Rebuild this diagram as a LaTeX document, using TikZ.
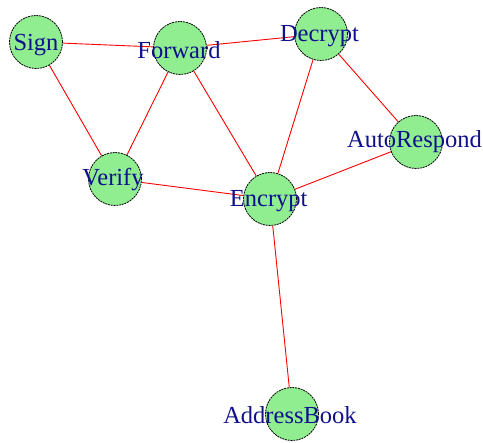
\documentclass[tikz,border=0pt]{standalone}
\usepackage{fontspec}
\setmainfont{Liberation Serif}
\usetikzlibrary{backgrounds}
\definecolor{vfill}{HTML}{90EE90}
\definecolor{lblue}{HTML}{10108C}
\begin{document}
\begin{tikzpicture}[x=1pt,y=-1pt,
  vert/.style={circle,draw=black,line width=0.8pt,dash pattern=on 2pt off 0.8pt,fill=vfill,minimum size=53pt,inner sep=0pt},
  lbl/.style={anchor=base,inner sep=0pt,text=lblue,font=\fontsize{24.5}{26}\selectfont},
  edge/.style={draw=red,line width=0.9pt}]
\useasboundingbox (0,0) rectangle (483,443);
\node[vert] (Sign) at (36,42) {};
\node[vert] (Forward) at (180,48) {};
\node[vert] (Decrypt) at (321,34) {};
\node[vert] (AutoRespond) at (416,142) {};
\node[vert] (Verify) at (115,179) {};
\node[vert] (Encrypt) at (270,199) {};
\node[vert] (AddressBook) at (292,414) {};
\begin{scope}[on background layer]
\draw[edge] (Sign) -- (Forward);
\draw[edge] (Forward) -- (Decrypt);
\draw[edge] (Sign) -- (Verify);
\draw[edge] (Forward) -- (Verify);
\draw[edge] (Forward) -- (Encrypt);
\draw[edge] (Decrypt) -- (Encrypt);
\draw[edge] (Decrypt) -- (AutoRespond);
\draw[edge] (Verify) -- (Encrypt);
\draw[edge] (AutoRespond) -- (Encrypt);
\draw[edge] (Encrypt) -- (AddressBook);
\end{scope}
\node[lbl] (Sign-l) at (36,51) {Sign};
\node[lbl] (Forward-l) at (179,59) {Forward};
\node[lbl] (Decrypt-l) at (319.5,42) {Decrypt};
\node[lbl] (AutoRespond-l) at (414.5,148) {AutoRespond};
\node[lbl] (Verify-l) at (113,186) {Verify};
\node[lbl] (Encrypt-l) at (268.7,206.5) {Encrypt};
\node[lbl] (AddressBook-l) at (290,424) {AddressBook};
\end{tikzpicture}
\end{document}
